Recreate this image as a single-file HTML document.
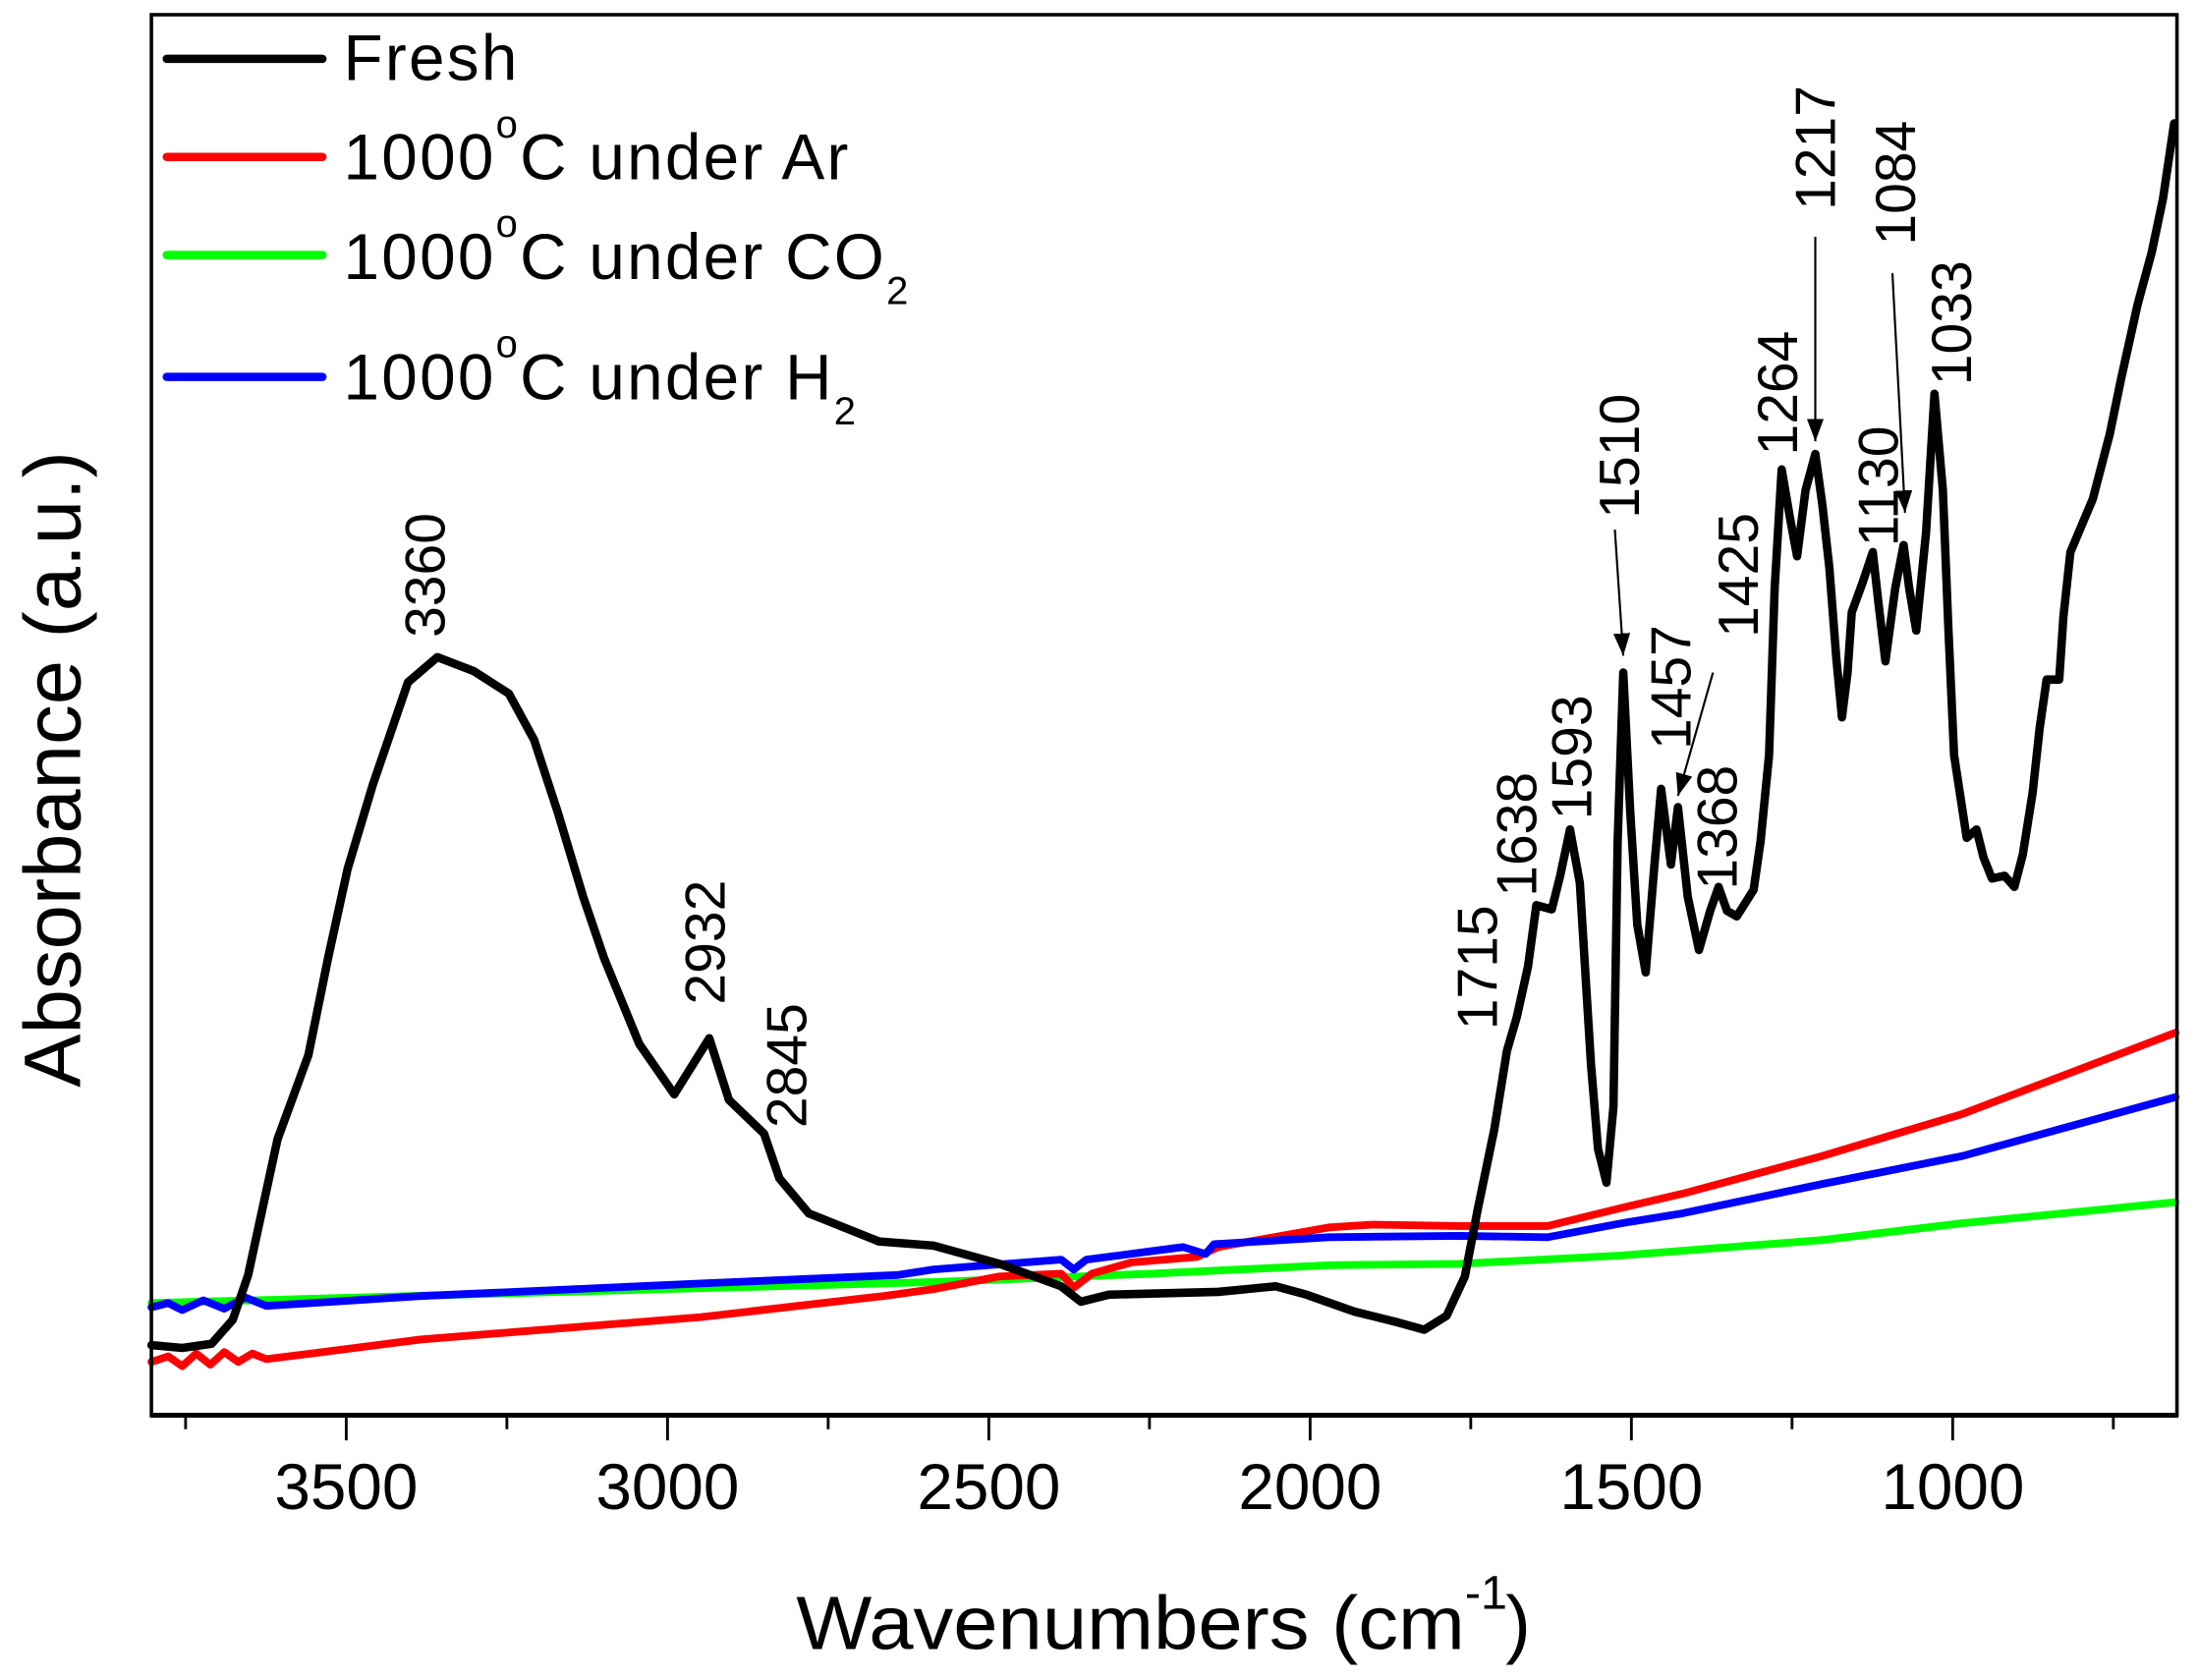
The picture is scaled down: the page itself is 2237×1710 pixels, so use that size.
<!DOCTYPE html>
<html><head><meta charset="utf-8"><style>
html,body{margin:0;padding:0;background:#fff;}
svg{display:block;}
text{font-family:"Liberation Sans",Arial,sans-serif;fill:#000;}
</style></head><body>
<svg width="2237" height="1710" viewBox="0 0 1568 1199" preserveAspectRatio="none" xmlns="http://www.w3.org/2000/svg">
<defs>
<marker id="ah2" viewBox="0 0 16 12" markerWidth="16" markerHeight="12" refX="16" refY="6" orient="auto" markerUnits="userSpaceOnUse"><path d="M0,0 L16,6 L0,12 Z" fill="#000"/></marker></defs>
<rect x="0" y="0" width="1568" height="1199" fill="#fff"/>
<g fill="none" stroke-linejoin="round" stroke-linecap="round">
<polyline stroke="#00ff00" stroke-width="5.5" points="108,930 400,922 666,915 822,909 948,903 1041,902 1157,896 1300,885 1400,873 1552,858"/>
<polyline stroke="#ff0000" stroke-width="5.5" points="108,972 120,968 130,975 140,966 150,974 160,965 170,972 180,966 190,970 230,965 300,956 500,940 630,925 666,920 713,911 757,909 766,919 779,909 807,901 854,897 869,890 948,876 979,874 1041,875 1104,875 1157,862 1200,852 1300,825 1400,795 1552,737"/>
<polyline stroke="#0000ff" stroke-width="5.5" points="108,933 120,930 130,935 145,928 160,934 175,926 190,932 300,925 500,916 640,910 666,906 757,899 766,906 775,899 844,890 860,895 866,888 948,883 1041,882 1104,883 1157,873 1200,866 1300,845 1400,825 1552,783"/>
<polyline stroke="#000" stroke-width="6" points="108,960 130,962 151,959 166,942 177,910 198,813 220,753 234,684 248,620 266,560 291,487 312,469 338,479 363,495 381,528 398,580 416,640 431,684 456,745 481,781 506,741 520,785 545,809 556,841 577,866 627,886 666,889 713,902 757,918 771,929 791,924 869,922 910,918 932,924 966,936 998,944 1016,949 1032,939 1045,911 1054,864 1066,806 1075,750 1082,726 1090,690 1096,646 1107,649 1113,625 1120,592 1127,630 1135,760 1140,820 1146,844 1151,790 1154,600 1158,480 1163,580 1168,660 1174,694 1180,620 1185,563 1192,617 1197,576 1204,640 1212,678 1220,650 1226,633 1232,650 1239,654 1251,635 1256,600 1262,539 1266,420 1271,335 1277,370 1282,397 1288,350 1295,324 1300,360 1305,405 1310,470 1314,512 1318,480 1321,437 1329,415 1336,394 1340,430 1345,472 1352,420 1358,389 1362,420 1367,450 1374,380 1380,281 1386,350 1390,450 1394,539 1403,598 1410,592 1415,612 1421,627 1430,625 1437,633 1443,610 1450,566 1455,520 1460,485 1469,485 1472,440 1477,394 1493,356 1505,310 1513,271 1525,217 1535,180 1543,142 1551,88"/>
</g>
<rect x="108" y="10.5" width="1445" height="999.5" fill="none" stroke="#000" stroke-width="2.5"/>
<line x1="107" y1="1010" x2="1554" y2="1010" stroke="#000" stroke-width="3.5"/>
<g stroke="#000" stroke-width="2">
<line x1="132.4" y1="1010" x2="132.4" y2="1020"/>
<line x1="247" y1="1010" x2="247" y2="1028"/>
<line x1="361.6" y1="1010" x2="361.6" y2="1020"/>
<line x1="476.2" y1="1010" x2="476.2" y2="1028"/>
<line x1="590.8" y1="1010" x2="590.8" y2="1020"/>
<line x1="705.4" y1="1010" x2="705.4" y2="1028"/>
<line x1="820" y1="1010" x2="820" y2="1020"/>
<line x1="934.6" y1="1010" x2="934.6" y2="1028"/>
<line x1="1049.2" y1="1010" x2="1049.2" y2="1020"/>
<line x1="1163.8" y1="1010" x2="1163.8" y2="1028"/>
<line x1="1278.4" y1="1010" x2="1278.4" y2="1020"/>
<line x1="1393" y1="1010" x2="1393" y2="1028"/>
<line x1="1507.6" y1="1010" x2="1507.6" y2="1020"/>
</g>
<g font-size="46" text-anchor="middle">
<text x="247" y="1077">3500</text>
<text x="476.2" y="1077">3000</text>
<text x="705.4" y="1077">2500</text>
<text x="934.6" y="1077">2000</text>
<text x="1163.8" y="1077">1500</text>
<text x="1393" y="1077">1000</text>
</g>
<text x="568" y="1177" font-size="54" textLength="477" lengthAdjust="spacingAndGlyphs">Wavenumbers (cm</text>
<text x="1045" y="1148" font-size="34">-1</text>
<text x="1074" y="1177" font-size="54">)</text>
<text transform="translate(57,776) rotate(-90)" font-size="57" textLength="454" lengthAdjust="spacingAndGlyphs">Absorbance (a.u.)</text>
<g stroke-width="6" stroke-linecap="round">
<line x1="119" y1="42" x2="230" y2="42" stroke="#000"/>
<line x1="119" y1="112" x2="230" y2="112" stroke="#ff0000"/>
<line x1="119" y1="182" x2="230" y2="182" stroke="#00ff00"/>
<line x1="119" y1="269" x2="230" y2="269" stroke="#0000ff"/>
</g>
<g font-size="46" letter-spacing="1.6">
<text x="245" y="57">Fresh</text>
<text x="245" y="128">1000<tspan font-size="28" dy="-30">o</tspan><tspan dy="30">C under Ar</tspan></text>
<text x="245" y="199">1000<tspan font-size="28" dy="-30">o</tspan><tspan dy="30">C under CO</tspan><tspan font-size="28" dy="18">2</tspan></text>
<text x="245" y="285">1000<tspan font-size="28" dy="-30">o</tspan><tspan dy="30">C under H</tspan><tspan font-size="28" dy="18">2</tspan></text>
</g>
<g font-size="40">
<text transform="translate(317,455) rotate(-90)">3360</text>
<text transform="translate(517,717) rotate(-90)">2932</text>
<text transform="translate(575,805) rotate(-90)">2845</text>
<text transform="translate(1068,735) rotate(-90)">1715</text>
<text transform="translate(1096,640) rotate(-90)">1638</text>
<text transform="translate(1135,585) rotate(-90)">1593</text>
<text transform="translate(1169,370) rotate(-90)">1510</text>
<text transform="translate(1206,535) rotate(-90)">1457</text>
<text transform="translate(1254,455) rotate(-90)">1425</text>
<text transform="translate(1239,635) rotate(-90)">1368</text>
<text transform="translate(1282,325) rotate(-90)">1264</text>
<text transform="translate(1309,150) rotate(-90)">1217</text>
<text transform="translate(1354,390) rotate(-90)">1130</text>
<text transform="translate(1366,175) rotate(-90)">1084</text>
<text transform="translate(1406,275) rotate(-90)">1033</text>
</g>
<g stroke="#000" stroke-width="1.5" fill="none">
<line x1="1152" y1="378" x2="1158" y2="468" marker-end="url(#ah2)"/>
<line x1="1222" y1="480" x2="1197" y2="568" marker-end="url(#ah2)"/>
<line x1="1295" y1="169" x2="1295" y2="315" marker-end="url(#ah2)"/>
<line x1="1350" y1="195" x2="1359" y2="366" marker-end="url(#ah2)"/>
</g>
</svg>
</body></html>
